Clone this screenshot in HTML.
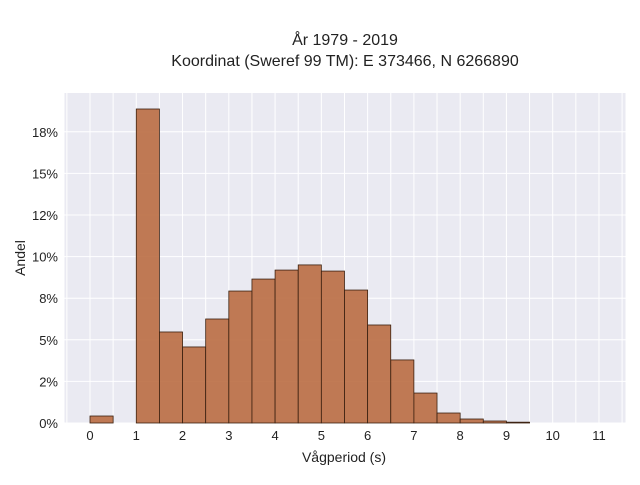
<!DOCTYPE html>
<html><head><meta charset="utf-8"><style>
body{margin:0;background:#fff;font-family:"Liberation Sans",sans-serif;}
</style></head><body>
<svg id="chart" width="640" height="480" xmlns="http://www.w3.org/2000/svg" font-family="Liberation Sans, sans-serif">
<text x="345" y="45" text-anchor="middle" font-size="16" fill="#222">År 1979 - 2019</text>
<text x="345" y="66" text-anchor="middle" font-size="16" fill="#222">Koordinat (Sweref 99 TM): E 373466, N 6266890</text>
<rect x="64.5" y="93" width="561" height="330" fill="#eaeaf2"/>
<g id="grid"></g><g id="bars"></g><g id="axes"></g>
<text x="344" y="462" text-anchor="middle" font-size="14" fill="#222">Vågperiod (s)</text>
<text transform="translate(25,258) rotate(-90)" text-anchor="middle" font-size="14" fill="#222">Andel</text>
</svg>
<script>
const binStarts=[0,1,1.5,2,2.5,3,3.5,4,4.5,5,5.5,6,6.5,7,7.5,8,8.5,9];
const binValues=[0.42,18.87,5.47,4.57,6.25,7.93,8.65,9.19,9.5,9.13,7.99,5.89,3.79,1.8,0.6,0.24,0.12,0.05];
const binWidth=0.5;
const xTicks=[0,1,2,3,4,5,6,7,8,9,10,11];
const yTicks=[0,2.5,5,7.5,10,12.5,15,17.5];
const yTickLabels=["0%","2%","5%","8%","10%","12%","15%","18%"];
const ns="http://www.w3.org/2000/svg";
const X=v=>90+v*46.27, Y=v=>423-v*16.64;
const L=64.5,R=625.5,T=93,B=423;
function mk(t,a,p){const e=document.createElementNS(ns,t);for(const k in a)e.setAttribute(k,a[k]);p.appendChild(e);return e;}
const g=document.getElementById('grid'),b=document.getElementById('bars'),ax=document.getElementById('axes');
for(let v=-0.5;v<=11.5;v+=0.5){const x=X(v);if(x<L||x>R)continue;
const l=mk('line',{x1:x,x2:x,y1:T,y2:B,stroke:'#fff','stroke-width':1},g);

}
yTicks.forEach((v,i)=>{const y=Y(v);
const l=mk('line',{x1:L,x2:R,y1:y,y2:y,stroke:'#fff','stroke-width':1},g);


const t=mk('text',{x:58,y:y+5,'text-anchor':'end','font-size':13,fill:'#222'},ax);t.textContent=yTickLabels[i];

});
xTicks.forEach(v=>{const t=mk('text',{x:X(v),y:440,'text-anchor':'middle','font-size':13,fill:'#222'},ax);t.textContent=v;

});
binStarts.forEach((s,i)=>{const x0=X(s),x1=X(s+binWidth),y=Y(binValues[i]);
const r=mk('rect',{x:x0,y:y,width:x1-x0,height:B-y,fill:'#b8693e','fill-opacity':0.88,stroke:'#3a2010','stroke-width':0.8},b);

});
</script>
</body></html>
